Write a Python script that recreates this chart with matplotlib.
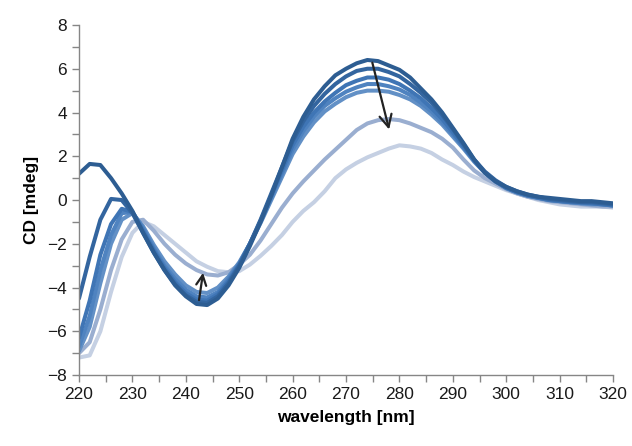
import numpy as np
import matplotlib
matplotlib.use('Agg')
import matplotlib.pyplot as plt
from matplotlib.ticker import MultipleLocator

plt.rcParams['font.family'] = ['Liberation Sans', 'DejaVu Sans']

# wavelength grid (nm)
wavelength = np.arange(220, 321, 2)

# CD spectra [mdeg], darkest -> lightest
cd_1 = [1.2, 1.65, 1.6, 1.0, 0.3, -0.5, -1.5, -2.4, -3.2, -3.9,
        -4.4, -4.75, -4.8, -4.5, -3.9, -3.1, -2.1, -1.0, 0.2, 1.5,
        2.8, 3.8, 4.6, 5.2, 5.7, 6.0, 6.25, 6.4, 6.35, 6.15,
        5.95, 5.6, 5.1, 4.6, 4.0, 3.3, 2.6, 1.85, 1.25, 0.85,
        0.6, 0.4, 0.25, 0.15, 0.1, 0.05, 0.0, -0.05, -0.05, -0.1, -0.15]
cd_2 = [-4.5, -2.6, -0.9, 0.05, 0.0, -0.6, -1.5, -2.4, -3.2, -3.85,
        -4.35, -4.65, -4.7, -4.4, -3.8, -3.0, -2.0, -0.9, 0.3, 1.5,
        2.7, 3.6, 4.3, 4.85, 5.3, 5.65, 5.9, 6.0, 6.0, 5.85,
        5.65, 5.3, 4.9, 4.45, 3.9, 3.25, 2.55, 1.85, 1.3, 0.9,
        0.6, 0.4, 0.25, 0.15, 0.05, 0.0, -0.05, -0.1, -0.1, -0.15, -0.2]
cd_3 = [-6.3, -4.6, -2.5, -1.1, -0.4, -0.55, -1.4, -2.3, -3.1, -3.75,
        -4.25, -4.55, -4.6, -4.3, -3.7, -2.95, -2.0, -0.95, 0.2, 1.35,
        2.5, 3.35, 4.0, 4.5, 4.9, 5.25, 5.45, 5.6, 5.6, 5.5,
        5.3, 5.0, 4.65, 4.2, 3.7, 3.1, 2.45, 1.8, 1.25, 0.85,
        0.55, 0.35, 0.2, 0.1, 0.0, -0.05, -0.1, -0.1, -0.15, -0.2, -0.25]
cd_4 = [-6.7, -5.3, -3.2, -1.6, -0.6, -0.55, -1.3, -2.2, -3.0, -3.6,
        -4.1, -4.4, -4.45, -4.2, -3.6, -2.9, -2.0, -1.0, 0.1, 1.2,
        2.3, 3.15, 3.8, 4.3, 4.65, 4.95, 5.15, 5.3, 5.3, 5.2,
        5.05, 4.8, 4.45, 4.05, 3.55, 3.0, 2.4, 1.8, 1.25, 0.85,
        0.55, 0.35, 0.2, 0.1, 0.0, -0.05, -0.1, -0.15, -0.15, -0.2, -0.25]
cd_5 = [-6.9, -5.8, -3.8, -2.0, -0.9, -0.6, -1.2, -2.05, -2.8, -3.4,
        -3.9, -4.2, -4.25, -4.0, -3.5, -2.85, -2.0, -1.05, 0.0, 1.05,
        2.1, 2.9, 3.55, 4.05, 4.4, 4.7, 4.9, 5.0, 5.0, 4.95,
        4.8, 4.6, 4.3, 3.9, 3.45, 2.9, 2.35, 1.75, 1.25, 0.85,
        0.55, 0.35, 0.2, 0.1, 0.0, -0.05, -0.1, -0.15, -0.2, -0.2, -0.25]
cd_6 = [-7.0, -6.5, -5.0, -3.2, -1.8, -1.0, -0.9, -1.4, -2.0, -2.5,
        -2.9, -3.2, -3.4, -3.45, -3.3, -2.95, -2.5, -1.85, -1.1, -0.35,
        0.3, 0.85, 1.35, 1.85, 2.3, 2.75, 3.2, 3.5, 3.65, 3.7,
        3.65, 3.5, 3.3, 3.1, 2.8, 2.4, 1.85, 1.35, 1.0, 0.75,
        0.5, 0.3, 0.15, 0.05, -0.05, -0.1, -0.15, -0.2, -0.25, -0.3, -0.3]
cd_7 = [-7.2, -7.1, -6.0, -4.2, -2.6, -1.5, -1.0, -1.2, -1.6, -2.0,
        -2.4, -2.8, -3.05, -3.25, -3.3, -3.25, -2.95, -2.55, -2.1, -1.6,
        -1.0, -0.5, -0.1, 0.4, 1.0, 1.4, 1.7, 1.95, 2.15, 2.35,
        2.5, 2.45, 2.35, 2.15, 1.85, 1.6, 1.3, 1.05, 0.85, 0.65,
        0.45, 0.3, 0.15, 0.0, -0.1, -0.2, -0.25, -0.3, -0.3, -0.3, -0.35]

spectra = [cd_1, cd_2, cd_3, cd_4, cd_5, cd_6, cd_7]
colors = ['#2d5d92', '#33659f', '#3f75b5', '#4f83c0', '#6290c6', '#9aaed0', '#c5d0e3']

fig = plt.figure(figsize=(6.32, 4.46), dpi=100)
ax = fig.add_axes([0.125, 0.159, 0.845, 0.785])

# lightest first so the dark ones sit on top
for y, c in reversed(list(zip(spectra, colors))):
    ax.plot(wavelength, y, color=c, lw=2.9, solid_capstyle='round', solid_joinstyle='round')

# trend arrows
ax.annotate('', xy=(278.2, 3.1), xytext=(274.8, 6.4),
            arrowprops=dict(arrowstyle='->', color='#222222', lw=1.6, mutation_scale=22))
ax.annotate('', xy=(243.3, -3.2), xytext=(242.4, -4.7),
            arrowprops=dict(arrowstyle='->', color='#222222', lw=1.6, mutation_scale=18))

ax.set_xlim(220, 320)
ax.set_ylim(-8, 8)
ax.xaxis.set_major_locator(MultipleLocator(10))
ax.xaxis.set_minor_locator(MultipleLocator(5))
ax.yaxis.set_major_locator(MultipleLocator(2))
ax.yaxis.set_minor_locator(MultipleLocator(1))

for s in ['top', 'right']:
    ax.spines[s].set_visible(False)
for s in ['left', 'bottom']:
    ax.spines[s].set_color('#868686')
    ax.spines[s].set_linewidth(1.0)
ax.tick_params(which='both', direction='out', color='#868686', length=5, width=1.0)
ax.tick_params(which='major', labelsize=12.5, colors='#868686', labelcolor='#1a1a1a')

ax.set_xlabel('wavelength [nm]', fontsize=12.5, fontweight='bold', labelpad=6)
ax.set_ylabel('CD [mdeg]', fontsize=12.5, fontweight='bold', labelpad=6)

fig.savefig('out.png', dpi=100, facecolor='white')
